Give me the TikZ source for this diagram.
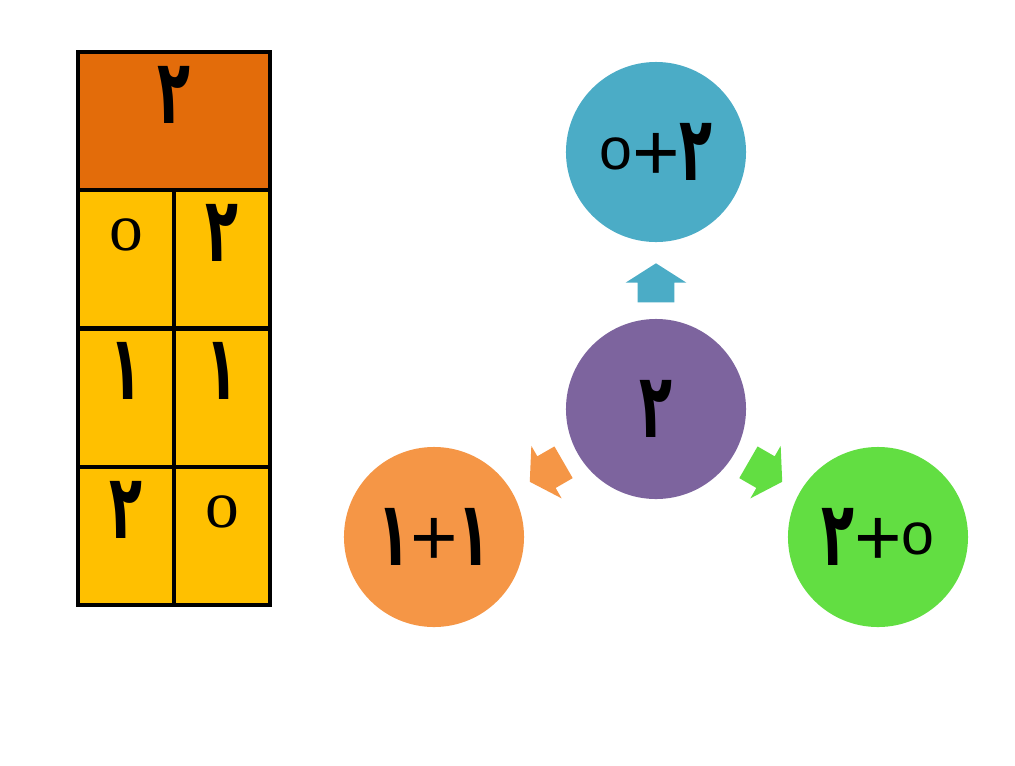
\documentclass[tikz,border=0pt]{standalone}
\usepackage{fontspec}
\setmainfont{Liberation Sans}
\newfontfamily\fadigits[Script=Arabic]{DejaVu Sans}
\newfontfamily\seriffont{Liberation Serif}
\usepackage{tikz}
\usetikzlibrary{positioning,calc,shapes.arrows}
\definecolor{hdrorange}{RGB}{227,108,10}
\definecolor{cellyellow}{RGB}{255,192,0}
\definecolor{tealc}{RGB}{75,172,198}
\definecolor{purplec}{RGB}{125,100,158}
\definecolor{orangec}{RGB}{245,150,70}
\definecolor{greenc}{RGB}{98,222,66}
\newcommand{\fanum}[1]{\scalebox{0.6}[1]{\fadigits\bfseries\fontsize{64}{70}\selectfont #1}}
\newcommand{\plusop}{{\fontsize{58}{60}\selectfont +}}
\newcommand{\zeroo}{\raisebox{8pt}{\fontsize{42}{50}\selectfont o}}
\newcommand{\zerot}{{\seriffont\fontsize{48}{50}\selectfont o}}
\tikzset{
  cell/.style={draw, line width=3pt, fill=cellyellow, minimum width=2.4cm, minimum height=3.456cm, inner sep=0pt, outer sep=0pt},
  ball/.style={circle, minimum size=4.5cm, inner sep=0pt},
  blockarrow/.style={single arrow, anchor=tip, minimum height=0.975cm, minimum width=1.5cm, single arrow head extend=0.3cm, single arrow tip angle=115, inner xsep=0pt, inner ysep=0.45cm}
}

\begin{document}
\begin{tikzpicture}[x=0.025cm, y=-0.025cm]
\fill[white] (0,0) rectangle (1015,765);
\useasboundingbox (0,0) rectangle (1015,765);
\node[cell, fill=hdrorange, minimum width=4.8cm] (hdr) at (174,121) {};
\node[cell, anchor=north west] (r1l) at (hdr.south west) {};
\node[cell, anchor=north west] (r1r) at (r1l.north east) {};
\node[cell, anchor=north west] (r2l) at (r1l.south west) {};
\node[cell, anchor=north west] (r2r) at (r2l.north east) {};
\node[cell, anchor=north west] (r3l) at (r2l.south west) {};
\node[cell, anchor=north west] (r3r) at (r3l.north east) {};
\node (t0) at ([yshift=-1.07cm]hdr.north) {\fanum{۲}};
\node (t1l) at ([yshift=-1.12cm]r1l.north) {\zerot};
\node (t1r) at ([yshift=-1.07cm]r1r.north) {\fanum{۲}};
\node (t2l) at ([yshift=-1.07cm]r2l.north) {\fanum{۱}};
\node (t2r) at ([yshift=-1.07cm]r2r.north) {\fanum{۱}};
\node (t3l) at ([yshift=-1.07cm]r3l.north) {\fanum{۲}};
\node (t3r) at ([yshift=-1.12cm]r3r.north) {\zerot};
\node[ball, fill=purplec] (two) at (656,409) {\fanum{۲}};
\node[ball, fill=tealc] (top) at (656,152) {\zeroo\plusop\fanum{۲}};
\node[ball, fill=orangec] (left) at (434,537) {\fanum{۱}\plusop\fanum{۱}};
\node[ball, fill=greenc] (right) at (878,537) {\fanum{۲}\plusop\zeroo};
\node[blockarrow, fill=tealc, rotate=90] (aup) at ($(two)!3.65cm!(top)$) {};
\node[blockarrow, fill=orangec, rotate=210] (aleft) at ($(two)!3.65cm!(left)$) {};
\node[blockarrow, fill=greenc, rotate=330] (aright) at ($(two)!3.65cm!(right)$) {};
\end{tikzpicture}
\end{document}
